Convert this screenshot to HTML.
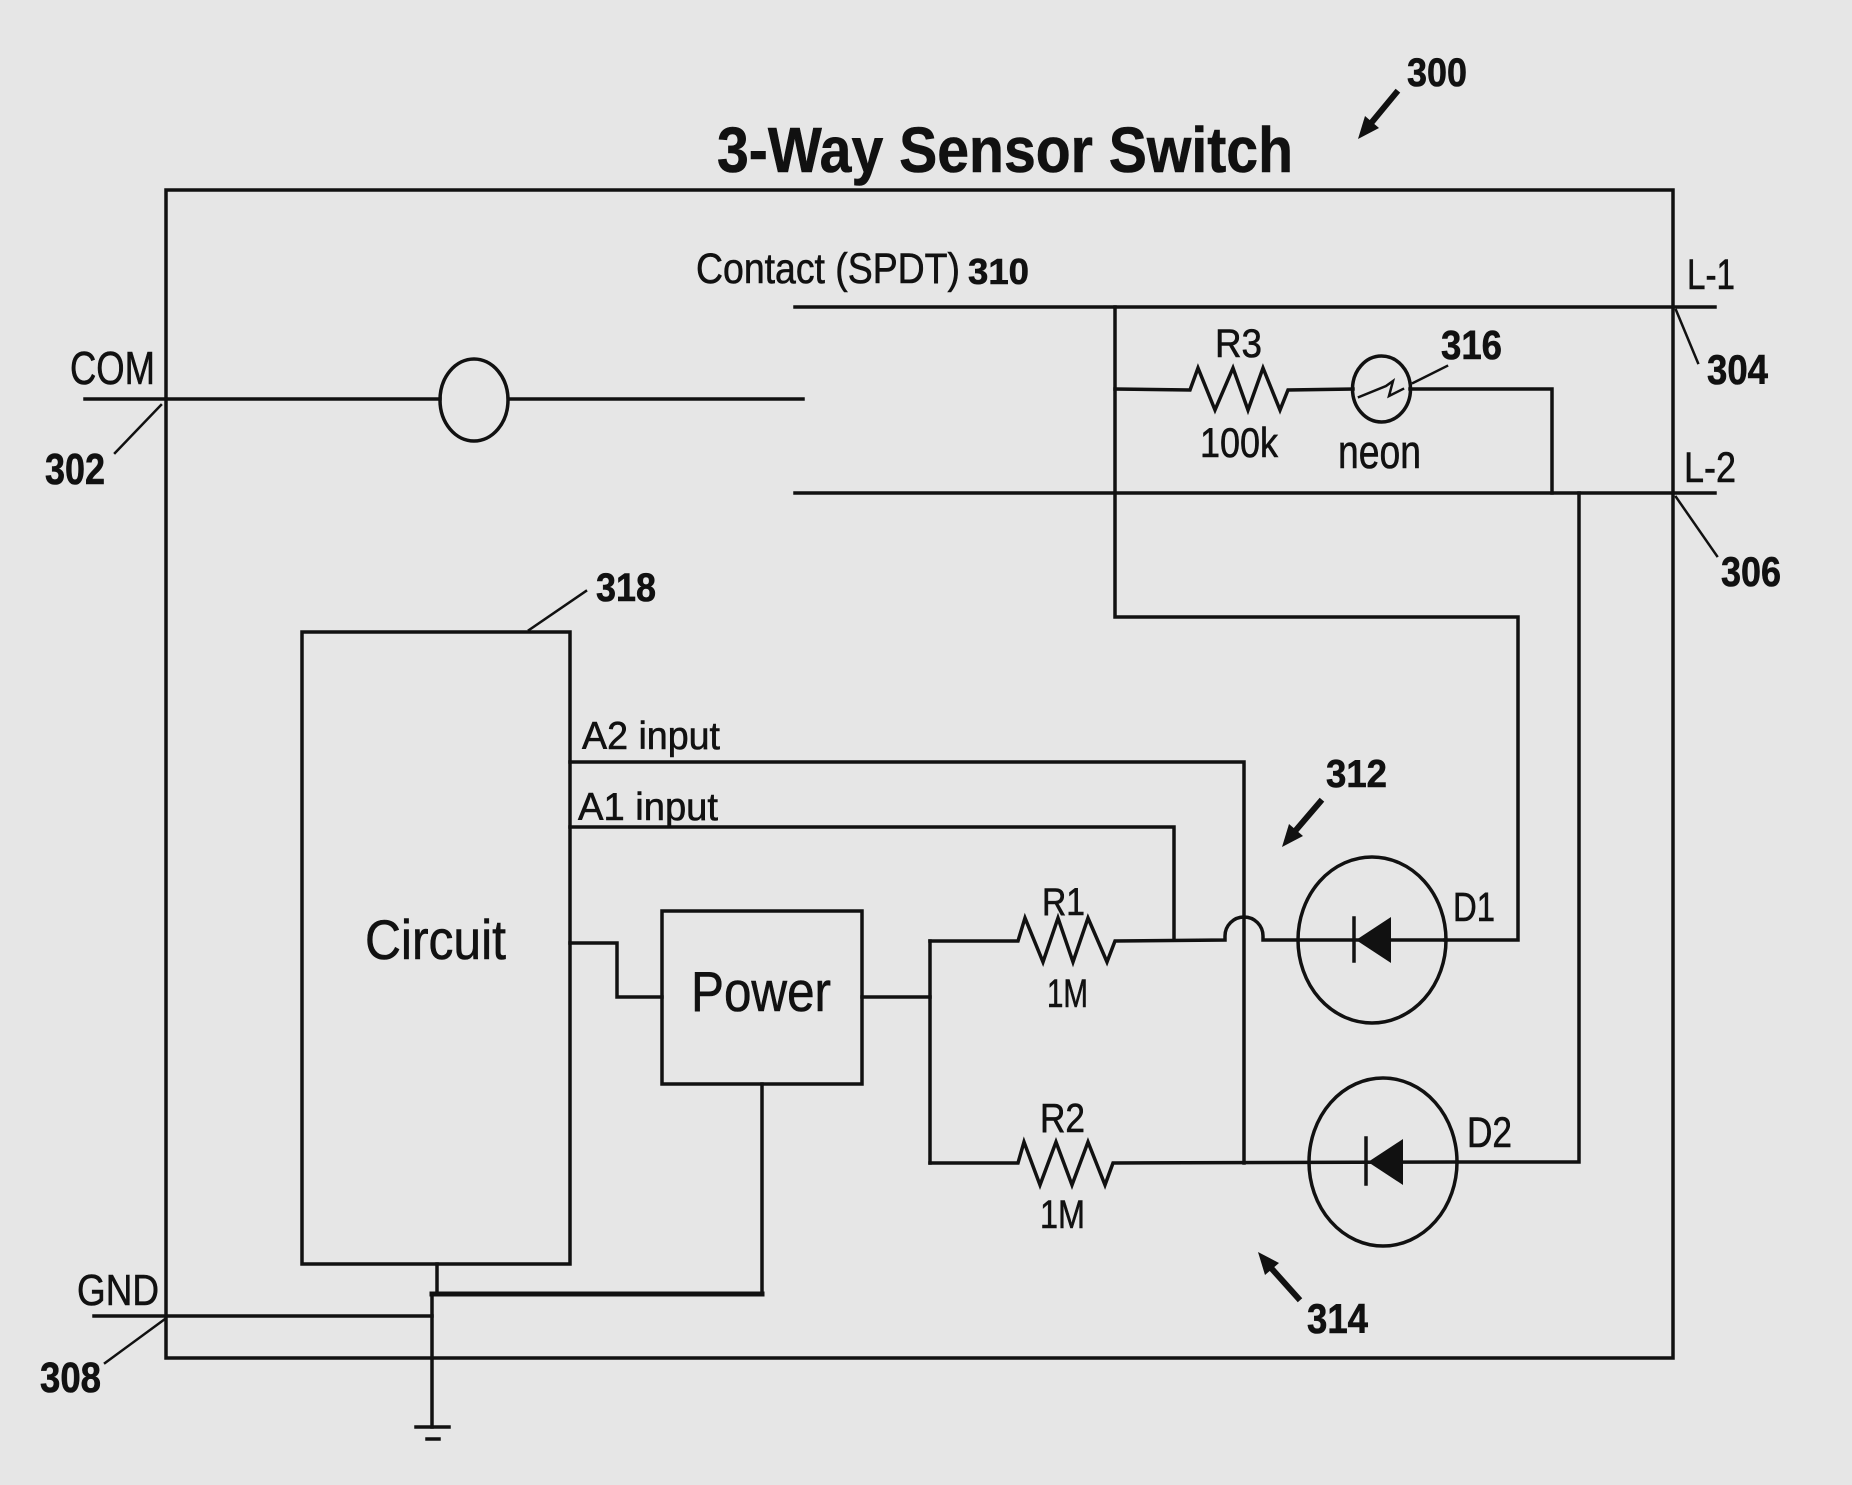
<!DOCTYPE html>
<html><head><meta charset="utf-8"><style>
html,body{margin:0;padding:0;background:#e6e6e6;}
svg{display:block;}
text{font-family:"Liberation Sans",Arial,sans-serif;fill:#111;stroke:#111;stroke-width:0.6;}
.b{font-weight:bold;}
</style></head><body>
<svg width="1852" height="1485" viewBox="0 0 1852 1485" xmlns="http://www.w3.org/2000/svg">
<rect x="0" y="0" width="1852" height="1485" fill="#e6e6e6"/>
<g stroke="#111" stroke-width="3.5" fill="none" stroke-linecap="square" stroke-linejoin="miter">
  <!-- outer box -->
  <rect x="166" y="190" width="1507" height="1168"/>
  <!-- L-1 / L-2 / COM -->
  <line x1="795" y1="307" x2="1715" y2="307"/>
  <line x1="795" y1="493" x2="1715" y2="493"/>
  <line x1="85" y1="399" x2="440" y2="399"/>
  <line x1="509" y1="399" x2="803" y2="399"/>
  <ellipse cx="474" cy="400" rx="34" ry="41"/>
  <!-- leaders -->
  <line x1="161" y1="405" x2="115" y2="453" stroke-width="2.5"/>
  <line x1="165" y1="1319" x2="105" y2="1363" stroke-width="2.5"/>
  <line x1="1676" y1="310" x2="1698" y2="363" stroke-width="2.5"/>
  <line x1="1676" y1="497" x2="1717" y2="556" stroke-width="2.5"/>
  <line x1="1413" y1="383" x2="1447" y2="366" stroke-width="2.5"/>
  <line x1="529" y1="630" x2="586" y2="591" stroke-width="2.5"/>
  <!-- L1 branch to D1 -->
  <polyline points="1115,307 1115,617 1518,617 1518,940 1445,940"/>
  <!-- R3 + neon branch -->
  <polyline points="1115,389 1190,390 1198,368 1215,410 1233,368 1248,410 1263,368 1280,410 1288,390 1353,389"/>
  <polyline points="1410,389 1552,389 1552,493"/>
  <ellipse cx="1381.5" cy="389" rx="29" ry="33"/>
  <polyline points="1359,397 1386,386 1393,381 1389,396 1403,389" stroke-width="2.5"/>
  <!-- L2 branch to D2 -->
  <polyline points="1579,493 1579,1162 1457,1162"/>
  <!-- Circuit box -->
  <rect x="302" y="632" width="268" height="632"/>
  <!-- A2 / A1 -->
  <polyline points="570,762 1244,762 1244,1163"/>
  <polyline points="570,827 1174,827 1174,940"/>
  <!-- Circuit to Power -->
  <polyline points="570,943 617,943 617,997 662,997"/>
  <rect x="662" y="911" width="200" height="173"/>
  <polyline points="862,997 930,997"/>
  <line x1="930" y1="941" x2="930" y2="1163"/>
  <!-- R1 path with hop -->
  <path d="M930,941 L1018,941 L1025,918 L1043,962 L1058,918 L1073,962 L1088,918 L1107,962 L1115,941 L1225,940 L1225,936 A19,19 0 0 1 1263,936 L1263,940 L1445,940"/>
  <!-- R2 path -->
  <path d="M930,1163 L1018,1163 L1024,1142 L1040,1185 L1056,1142 L1072,1185 L1088,1142 L1105,1185 L1113,1163 L1457,1162"/>
  <!-- D1 / D2 circles -->
  <ellipse cx="1372" cy="940" rx="74" ry="83"/>
  <ellipse cx="1383" cy="1162" rx="74" ry="84"/>
  <line x1="1354" y1="918" x2="1354" y2="961"/>
  <line x1="1366" y1="1138" x2="1366" y2="1184"/>
  <!-- ground -->
  <line x1="437" y1="1264" x2="437" y2="1294"/>
  <line x1="762" y1="1084" x2="762" y2="1294"/>
  <line x1="432" y1="1294" x2="762" y2="1294" stroke-width="5"/>
  <line x1="432" y1="1294" x2="432" y2="1427"/>
  <line x1="94" y1="1316" x2="432" y2="1316"/>
  <line x1="416" y1="1427" x2="449" y2="1427"/>
  <line x1="427" y1="1439" x2="439" y2="1439"/>
  <!-- arrows shafts -->
  <line x1="1396" y1="93" x2="1372" y2="122" stroke-width="6"/>
  <line x1="1320" y1="802" x2="1296" y2="830" stroke-width="6"/>
  <line x1="1298" y1="1298" x2="1272" y2="1269" stroke-width="6"/>
</g>
<g fill="#111" stroke="none">
  <polygon points="1356,940 1391,917 1391,963"/>
  <polygon points="1368,1162 1403,1139 1403,1185"/>
  <polygon points="1358,139 1379,128 1365,116"/>
  <polygon points="1282,847 1303,836 1289,824"/>
  <polygon points="1258,1252 1279,1263 1265,1275"/>
</g>
<!-- text -->
<text class="b" x="717" y="172" font-size="64" textLength="576" lengthAdjust="spacingAndGlyphs">3-Way Sensor Switch</text>
<text class="b" x="1407" y="86" font-size="40" textLength="60" lengthAdjust="spacingAndGlyphs">300</text>
<text x="696" y="283" font-size="43" textLength="264" lengthAdjust="spacingAndGlyphs">Contact (SPDT)</text>
<text class="b" x="968" y="284" font-size="36" textLength="61" lengthAdjust="spacingAndGlyphs">310</text>
<text x="1687" y="289" font-size="43" textLength="48" lengthAdjust="spacingAndGlyphs">L-1</text>
<text class="b" x="1707" y="384" font-size="42" textLength="61" lengthAdjust="spacingAndGlyphs">304</text>
<text x="1684" y="482" font-size="43" textLength="52" lengthAdjust="spacingAndGlyphs">L-2</text>
<text class="b" x="1721" y="586" font-size="42" textLength="60" lengthAdjust="spacingAndGlyphs">306</text>
<text x="70" y="384" font-size="46" textLength="85" lengthAdjust="spacingAndGlyphs">COM</text>
<text class="b" x="45" y="484" font-size="44" textLength="60" lengthAdjust="spacingAndGlyphs">302</text>
<text x="1215" y="357" font-size="40" textLength="47" lengthAdjust="spacingAndGlyphs">R3</text>
<text x="1200" y="457" font-size="42" textLength="78" lengthAdjust="spacingAndGlyphs">100k</text>
<text x="1338" y="468" font-size="47" textLength="83" lengthAdjust="spacingAndGlyphs">neon</text>
<text class="b" x="1441" y="359" font-size="41" textLength="61" lengthAdjust="spacingAndGlyphs">316</text>
<text class="b" x="596" y="601" font-size="40" textLength="60" lengthAdjust="spacingAndGlyphs">318</text>
<text x="582" y="749" font-size="39" textLength="138" lengthAdjust="spacingAndGlyphs">A2 input</text>
<text x="578" y="820" font-size="39" textLength="140" lengthAdjust="spacingAndGlyphs">A1 input</text>
<text x="365" y="959" font-size="56" textLength="141" lengthAdjust="spacingAndGlyphs">Circuit</text>
<text x="691" y="1011" font-size="57" textLength="140" lengthAdjust="spacingAndGlyphs">Power</text>
<text x="1042" y="915" font-size="39" textLength="43" lengthAdjust="spacingAndGlyphs">R1</text>
<text x="1047" y="1007" font-size="40" textLength="41" lengthAdjust="spacingAndGlyphs">1M</text>
<text x="1040" y="1132" font-size="41" textLength="45" lengthAdjust="spacingAndGlyphs">R2</text>
<text x="1040" y="1228" font-size="40" textLength="45" lengthAdjust="spacingAndGlyphs">1M</text>
<text x="1453" y="921" font-size="41" textLength="42" lengthAdjust="spacingAndGlyphs">D1</text>
<text x="1467" y="1147" font-size="43" textLength="45" lengthAdjust="spacingAndGlyphs">D2</text>
<text class="b" x="1326" y="787" font-size="39" textLength="61" lengthAdjust="spacingAndGlyphs">312</text>
<text class="b" x="1307" y="1333" font-size="42" textLength="61" lengthAdjust="spacingAndGlyphs">314</text>
<text x="77" y="1305" font-size="44" textLength="82" lengthAdjust="spacingAndGlyphs">GND</text>
<text class="b" x="40" y="1392" font-size="43" textLength="61" lengthAdjust="spacingAndGlyphs">308</text>
</svg>
</body></html>
